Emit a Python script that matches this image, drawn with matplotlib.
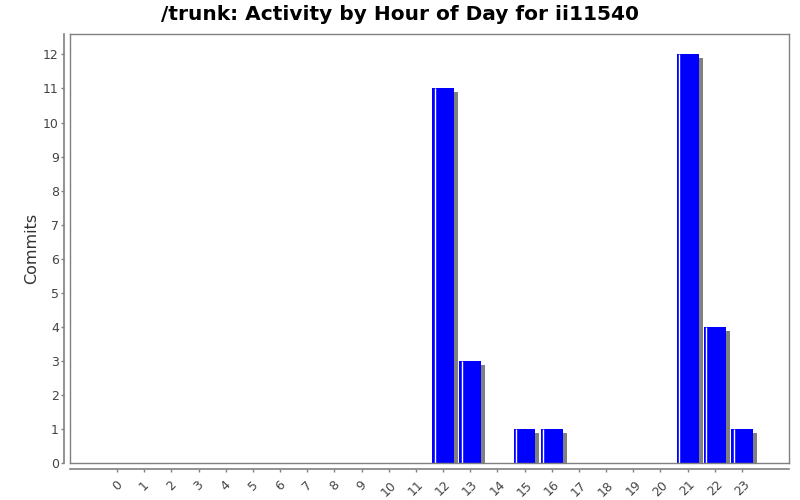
import matplotlib
matplotlib.use("Agg")
import matplotlib.pyplot as plt
import matplotlib.transforms as mtransforms

# === Данные ===
hours = list(range(24))
hour_labels = [str(h) for h in hours]
commits = [0, 0, 0, 0, 0, 0, 0, 0, 0, 0, 0, 0,
           11, 3, 0, 1, 1, 0, 0, 0, 0, 12, 4, 1]
title = "/trunk: Activity by Hour of Day for ii11540"

plt.rcParams["font.family"] = ["DejaVu Sans"]

fig = plt.figure(figsize=(8, 5), dpi=100)
ax = fig.add_axes([70 / 800, 37 / 500, 719 / 800, 429 / 500])

bar_w = 0.8
# тень бара
shadow = mtransforms.offset_copy(ax.transData, fig=fig, x=4, y=-4, units="dots")
ax.bar(hours, commits, width=bar_w, color="#808080", transform=shadow, zorder=1)
ax.bar(hours, commits, width=bar_w, color="#0000FF", zorder=2)
# белая полоска-блик слева
for h, c in zip(hours, commits):
    if c > 0:
        ax.plot([h - bar_w / 2 + 0.09, h - bar_w / 2 + 0.09], [0, c],
                color="white", lw=1.0, zorder=3, solid_capstyle="butt")

ax.set_xlim(-1.73, 24.73)
ax.set_ylim(0, 12.6)
ax.set_yticks(range(13))
ax.set_xticks(hours)
ax.set_xticklabels(hour_labels)

for s in ["top", "right"]:
    ax.spines[s].set_color("#808080")
    ax.spines[s].set_linewidth(1)
ax.spines["left"].set_position(("outward", 4))
ax.spines["bottom"].set_position(("outward", 4))
ax.spines["left"].set_color("#808080")
ax.spines["bottom"].set_color("#808080")
ax.spines["left"].set_linewidth(1.2)
ax.spines["bottom"].set_linewidth(1.2)

# рамка области графика
ax.plot([0, 0], [0, 1], transform=ax.transAxes, color="#808080", lw=1, clip_on=False, zorder=4)
ax.plot([0, 1], [0, 0], transform=ax.transAxes, color="#808080", lw=1, clip_on=False, zorder=4)

ax.tick_params(axis="both", colors="#808080", labelcolor="#444444", labelsize=9,
               length=2, width=1)
ax.tick_params(axis="x", pad=5)
ax.tick_params(axis="y", pad=2)
plt.setp(ax.get_xticklabels(), rotation=45, ha="center", va="top",
         rotation_mode="default")

ax.set_ylabel("Commits", fontsize=11.5, color="#333333", labelpad=3)
fig.suptitle(title, fontsize=14.5, fontweight="bold", y=0.99)

fig.savefig("out.png", dpi=100)
